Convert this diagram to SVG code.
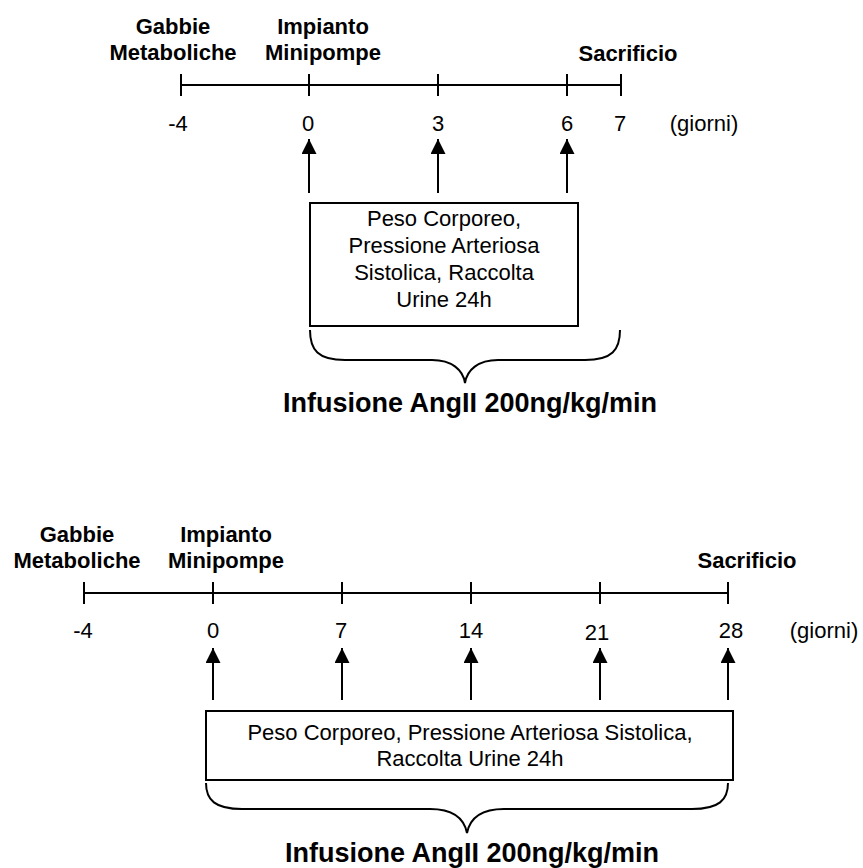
<svg xmlns="http://www.w3.org/2000/svg" width="863" height="868" viewBox="0 0 863 868">
<style>
text{font-family:"Liberation Sans",Arial,sans-serif;fill:#000}
.b{font-weight:bold;font-size:22px;text-anchor:middle}
.n{font-size:22px;text-anchor:middle}
.t{font-size:22px;text-anchor:middle}
.big{font-weight:bold;font-size:27px;text-anchor:middle}
.ln{stroke:#000;stroke-width:2;fill:none}
.box{stroke:#000;stroke-width:2;fill:#fff}
</style>
<defs>
<marker id="ah" viewBox="0 0 10 10" refX="10" refY="5" markerWidth="8" markerHeight="8" markerUnits="userSpaceOnUse" orient="auto">
<path d="M0,0 L10,5 L0,10 Z" fill="#000"/>
</marker>
<marker id="head" viewBox="0 0 16 16" refX="16" refY="8" markerWidth="16" markerHeight="15" markerUnits="userSpaceOnUse" orient="auto">
<path d="M0,0 L16,8 L0,16 Z" fill="#000"/>
</marker>
</defs>

<!-- ===== Top diagram ===== -->
<g id="top-timeline">
<line class="ln" x1="181" y1="85" x2="621" y2="85"/>
<line class="ln" x1="181" y1="74" x2="181" y2="96"/>
<line class="ln" x1="309" y1="74" x2="309" y2="96"/>
<line class="ln" x1="438" y1="74" x2="438" y2="96"/>
<line class="ln" x1="567" y1="74" x2="567" y2="96"/>
<line class="ln" x1="621" y1="74" x2="621" y2="96"/>
</g>
<g id="top-gabbie">
<text class="b" x="173" y="34">Gabbie</text>
<text class="b" x="173" y="60">Metaboliche</text>
</g>
<g id="top-impianto">
<text class="b" x="323" y="34">Impianto</text>
<text class="b" x="323" y="60">Minipompe</text>
</g>
<g id="top-sacrificio">
<text class="b" x="628" y="61">Sacrificio</text>
</g>
<g id="top-days">
<text class="n" x="178" y="131">-4</text>
<text class="n" x="308" y="131">0</text>
<text class="n" x="438" y="131">3</text>
<text class="n" x="567" y="131">6</text>
<text class="n" x="620" y="131">7</text>
<text class="n" x="704" y="131">(giorni)</text>
</g>
<g id="top-box">
<rect class="box" x="310" y="203" width="268" height="123"/>
<text class="t" x="444" y="226">Peso Corporeo,</text>
<text class="t" x="444" y="253">Pressione Arteriosa</text>
<text class="t" x="444" y="280">Sistolica, Raccolta</text>
<text class="t" x="444" y="307">Urine 24h</text>
</g>
<g id="top-infusione">
<path class="ln" d="M310,330 C310,350 318,360 345,360 L432,360 C452,360 463,370 465,383 C467,370 478,360 498,360 L585,360 C612,360 620,350 620,330"/>
<text class="big" x="470" y="412">Infusione AngII 200ng/kg/min</text>
</g>

<!-- ===== Bottom diagram ===== -->
<g id="bottom-timeline">
<line class="ln" x1="84" y1="593" x2="728" y2="593"/>
<line class="ln" x1="84" y1="582" x2="84" y2="604"/>
<line class="ln" x1="213" y1="582" x2="213" y2="604"/>
<line class="ln" x1="342" y1="582" x2="342" y2="604"/>
<line class="ln" x1="471" y1="582" x2="471" y2="604"/>
<line class="ln" x1="600" y1="582" x2="600" y2="604"/>
<line class="ln" x1="728" y1="582" x2="728" y2="604"/>
</g>
<g id="bottom-gabbie">
<text class="b" x="77" y="542">Gabbie</text>
<text class="b" x="77" y="568">Metaboliche</text>
</g>
<g id="bottom-impianto">
<text class="b" x="226" y="542">Impianto</text>
<text class="b" x="226" y="568">Minipompe</text>
</g>
<g id="bottom-sacrificio">
<text class="b" x="747" y="568">Sacrificio</text>
</g>
<g id="bottom-days">
<text class="n" x="83" y="638">-4</text>
<text class="n" x="213" y="638">0</text>
<text class="n" x="341" y="638">7</text>
<text class="n" x="471" y="638">14</text>
<text class="n" x="597" y="640">21</text>
<text class="n" x="731" y="638">28</text>
<text class="n" x="824" y="638">(giorni)</text>
</g>
<g id="bottom-box">
<rect class="box" x="206" y="711" width="527" height="69"/>
<text class="t" x="470" y="740">Peso Corporeo, Pressione Arteriosa Sistolica,</text>
<text class="t" x="470" y="766">Raccolta Urine 24h</text>
</g>
<g id="bottom-infusione">
<path class="ln" d="M206,783 C206,800 215,809 242,809 L430,809 C452,809 464,818 467,833 C470,818 482,809 504,809 L692,809 C719,809 728,800 728,783"/>
<text class="big" x="472" y="862">Infusione AngII 200ng/kg/min</text>
</g>

<!-- ===== Connectors ===== -->
<g id="connectors">
<line class="ln" x1="309" y1="193" x2="309" y2="139" marker-end="url(#head)"/>
<line class="ln" x1="438" y1="193" x2="438" y2="139" marker-end="url(#head)"/>
<line class="ln" x1="567" y1="193" x2="567" y2="139" marker-end="url(#head)"/>
<line class="ln" x1="213" y1="700" x2="213" y2="648" marker-end="url(#head)"/>
<line class="ln" x1="342" y1="700" x2="342" y2="648" marker-end="url(#head)"/>
<line class="ln" x1="471" y1="700" x2="471" y2="648" marker-end="url(#head)"/>
<line class="ln" x1="600" y1="700" x2="600" y2="648" marker-end="url(#head)"/>
<line class="ln" x1="728" y1="700" x2="728" y2="648" marker-end="url(#head)"/>
</g>
</svg>
